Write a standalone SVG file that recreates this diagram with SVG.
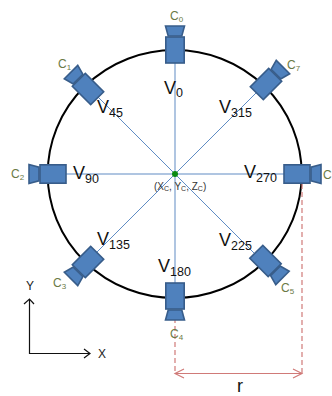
<svg xmlns="http://www.w3.org/2000/svg" width="332" height="396" viewBox="0 0 332 396">
<style>
text{font-family:"Liberation Sans","Noto Sans",sans-serif}
.v{font-size:18px;fill:#111}
.vs{font-size:12.500px;fill:#111}
.c{font-size:12px;fill:#6b7a45}
.cs{font-size:8px;fill:#6b7a45}
.body{fill:#4f81bd;stroke:#385d8a;stroke-width:1.6}
.axis{fill:none;stroke:#111;stroke-width:1.2}
.spoke{stroke:#5f8cc4;stroke-width:1}
.spoke2{stroke:#95b3d7;stroke-width:1.5}
.dash{stroke:#d07a78;stroke-width:1.2;stroke-dasharray:5 3;fill:none}
.dim{stroke:#d07a78;stroke-width:1.2;fill:none}
</style>
<defs>
<g id="cam">
<path class="body" d="M-9.500-24H9.500L6.800-14H-6.800Z"/>
<rect class="body" x="-9.200" y="-13" width="18.400" height="26"/>
</g>
</defs>
<g id="connectors">
<ellipse cx="174.700" cy="174" rx="127" ry="124" fill="none" stroke="#000" stroke-width="2"/>
<path class="spoke2" d="M175 60V283M62 174H288"/>
<path class="spoke" d="M88 87L262 261M262 87L88 261"/>
<path class="dash" d="M175 310V373M302 184V373"/>
<path class="dim" d="M175 373.500H302M184 369L175 373.500L184 378M293 369L302 373.500L293 378"/>
<path class="axis" d="M29.500 299V353.500H90M24 304L29.500 299L34 304M84 349L90 353.500L84 358"/>
</g>
<g id="cam0"><use href="#cam" transform="translate(175 50)"/><text class="c" x="170" y="20">C<tspan class="cs" dy="2">0</tspan></text></g>
<g id="cam1"><use href="#cam" transform="translate(88 89) rotate(-45)"/><text class="c" x="58" y="68">C<tspan class="cs" dy="2">1</tspan></text></g>
<g id="cam2"><use href="#cam" transform="translate(53 174) rotate(-90)"/><text class="c" x="11" y="178">C<tspan class="cs" dy="2">2</tspan></text></g>
<g id="cam3"><use href="#cam" transform="translate(88 262) rotate(-135)"/><text class="c" x="53" y="287">C<tspan class="cs" dy="2">3</tspan></text></g>
<g id="cam4"><use href="#cam" transform="translate(175 296) rotate(180)"/><text class="c" x="170" y="338">C<tspan class="cs" dy="2">4</tspan></text></g>
<g id="cam5"><use href="#cam" transform="translate(265.500 261) rotate(135)"/><text class="c" x="281" y="292">C<tspan class="cs" dy="2">5</tspan></text></g>
<g id="cam6"><use href="#cam" transform="translate(297 174) rotate(90)"/><text class="c" x="323" y="179">C</text></g>
<g id="cam7"><use href="#cam" transform="translate(266 84) rotate(45)"/><text class="c" x="287" y="69">C<tspan class="cs" dy="2">7</tspan></text></g>
<g id="labels">
<text class="v" x="164" y="94">V<tspan class="vs" dy="3">0</tspan></text>
<text class="v" x="97" y="113">V<tspan class="vs" dy="4">45</tspan></text>
<text class="v" x="219" y="113">V<tspan class="vs" dy="4">315</tspan></text>
<text class="v" x="73" y="179">V<tspan class="vs" dy="4">90</tspan></text>
<text class="v" x="244" y="178">V<tspan class="vs" dy="4">270</tspan></text>
<text class="v" x="97" y="245">V<tspan class="vs" dy="4">135</tspan></text>
<text class="v" x="219" y="246">V<tspan class="vs" dy="4">225</tspan></text>
<text class="v" x="158" y="272">V<tspan class="vs" dy="4">180</tspan></text>
<text x="154" y="190" font-size="10" fill="#333">(X<tspan font-size="7" dy="1">C</tspan><tspan dy="-1">, Y</tspan><tspan font-size="7" dy="1">C</tspan><tspan dy="-1">, Z</tspan><tspan font-size="7" dy="1">C</tspan><tspan dy="-1">)</tspan></text>
<text x="26" y="290" font-size="12" fill="#222">Y</text>
<text x="98" y="358" font-size="12" fill="#222">X</text>
<text x="237" y="392" font-size="18" fill="#111">r</text>
</g>
<g id="center"><circle cx="175" cy="174" r="3" fill="#0a8a12"/></g>
</svg>
